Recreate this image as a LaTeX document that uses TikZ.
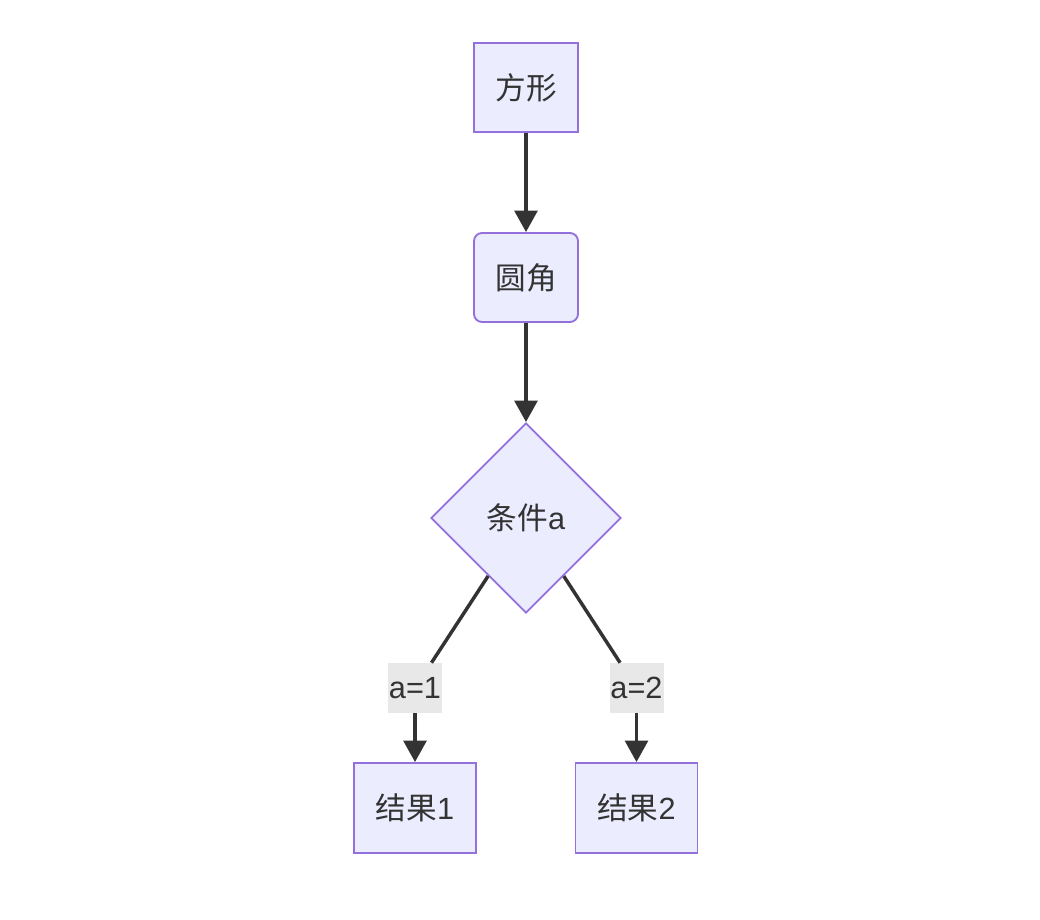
\documentclass[tikz,border=0pt]{standalone}
\usepackage{fontspec}
\setmainfont{Liberation Sans}
\newfontfamily\cjk{Noto Sans CJK SC}
\usetikzlibrary{arrows.meta,shapes.geometric}
\definecolor{nodefill}{HTML}{ECECFF}
\definecolor{nodeline}{HTML}{9370DB}
\definecolor{ink}{HTML}{333333}
\definecolor{labelfill}{HTML}{E8E8E8}

\tikzset{
  box/.style={draw=nodeline, fill=nodefill, line width=1.4pt, text=ink,
    minimum width=78pt, minimum height=66.75pt, inner sep=0pt},
  roundbox/.style={box, rounded corners=6pt},
  resultbox/.style={box, minimum width=91.5pt, minimum height=67.5pt},
  choice/.style={box, diamond, aspect=1, minimum width=142.5pt, minimum height=142.5pt},
  edgelabel/.style={fill=labelfill, text=ink, inner sep=0pt, minimum width=40.5pt, minimum height=37.5pt},
  link/.style={draw=ink, line width=2.6pt},
  arr/.style={link, -{Triangle[length=16pt, width=17pt]}}
}

\begin{document}
\begin{tikzpicture}[x=0.75pt, y=-0.75pt, font=\fontsize{23}{27}\selectfont]
    \useasboundingbox (0,0) rectangle (1040,920);
    % Nodes
    \node[box] (square) at (526,87.5) {\cjk 方形};
    \node[roundbox] (rounded) at (526,277.5) {\cjk 圆角};
    \node[choice] (cond) at (526,518) {{\cjk 条件}a};
    \node[resultbox] (res1) at (415,808) {{\cjk 结果}1};
    \node[resultbox] (res2) at (636.5,808) {{\cjk 结果}2};
    % Edge labels
    \node[edgelabel] (lab1) at (415,688) {a=1};
    \node[edgelabel] (lab2) at (636.5,688) {a=2};
    % Connectors
    \draw[arr] (square) -- (rounded);
    \draw[arr] (rounded) -- (cond);
    \draw[link] (cond) -- (lab1);
    \draw[arr] (lab1) -- (res1);
    \draw[link] (cond) -- (lab2);
    \draw[arr] (lab2) -- (res2);
\end{tikzpicture}
\end{document}
